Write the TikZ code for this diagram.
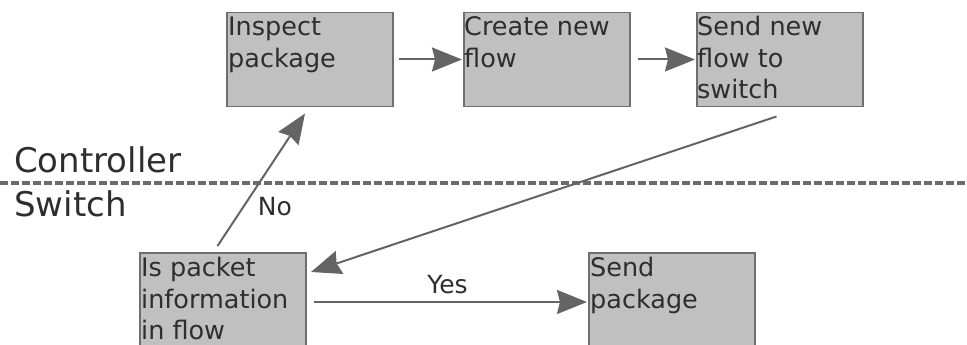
\documentclass[tikz,border=0pt]{standalone}
\usepackage{fontspec}
\setmainfont{DejaVu Sans}
\usetikzlibrary{arrows.meta,calc}
\definecolor{boxfill}{HTML}{C0C0C0}
\definecolor{boxline}{HTML}{6E6E6E}
\definecolor{arrowc}{HTML}{646464}
\definecolor{textc}{HTML}{2E2E2E}
\definecolor{dashc}{HTML}{6A6A6A}
\begin{document}
\begin{tikzpicture}[x=1pt,y=-1pt,
  stepbox/.style={draw=boxline,fill=boxfill,line width=1.3pt,minimum width=166pt,minimum height=94pt,inner sep=0pt,outer sep=0pt,anchor=north west},
  boxtext/.style={text=textc,font=\fontsize{25.5}{31.5}\selectfont,align=left,inner sep=0pt,anchor=north west},
  conn/.style={draw=arrowc,line width=2pt,-{Stealth[length=30pt,width=24pt,inset=3pt]}},
  lbl/.style={text=textc,font=\fontsize{25}{30}\selectfont,inner sep=0pt},
  lane/.style={text=textc,font=\fontsize{34}{40}\selectfont,inner sep=0pt,anchor=base west},
  divider/.style={draw=dashc,line width=3.5pt,dash pattern=on 8pt off 3pt}]
\useasboundingbox (0,0) rectangle (967,345);
\clip (0,0) rectangle (967,345);
% divider
\coordinate (dl) at (0,183);
\coordinate (dr) at (967,183);
\draw[divider] (dl) -- (dr);
\node[lane] (ctrl) at (14,172) {Controller};
\node[lane] (sw) at (14,216) {Switch};
% boxes
\node[stepbox] (b1) at (227,12.5) {};
\node[stepbox] (b2) at (464,12.5) {};
\node[stepbox] (b3) at (697,12.5) {};
\node[stepbox] (b4) at (140,253) {};
\node[stepbox] (b5) at (589,253) {};
\node[boxtext] (t1) at ($(b1.north west)+(1,3.5)$) {\rule{0pt}{19.5pt}Inspect\\package};
\node[boxtext] (t2) at ($(b2.north west)+(0,3.5)$) {\rule{0pt}{19.5pt}Create new\\flow};
\node[boxtext] (t3) at ($(b3.north west)+(0,3.5)$) {\rule{0pt}{19.5pt}Send new\\flow to\\switch};
\node[boxtext] (t4) at ($(b4.north west)+(1,4)$) {\rule{0pt}{19.5pt}Is packet\\information\\in flow};
\node[boxtext] (t5) at ($(b5.north west)+(1,4)$) {\rule{0pt}{19.5pt}Send\\package};
% connectors
\draw[conn,shorten <=6pt,shorten >=2pt] (b1.east) -- (b2.west);
\draw[conn,shorten <=8pt,shorten >=2pt] (b2.east) -- (b3.west);
\draw[conn] ($(b3.south)+(-3.5,10)$) -- ($(b4.east)+(5,-28)$);
\draw[conn] ($(b4.north)+(-5.5,-7)$) -- ($(b1.south)+(-5,7)$)
  node[lbl,pos=0.233,anchor=base west,xshift=19pt] (no) {No};
\draw[conn] ($(b4.east)+(8,2)$) -- ($(b5.west)+(-2,2)$)
  node[lbl,midway,anchor=base,yshift=9pt,xshift=-3pt] (yes) {Yes};
\end{tikzpicture}
\end{document}
